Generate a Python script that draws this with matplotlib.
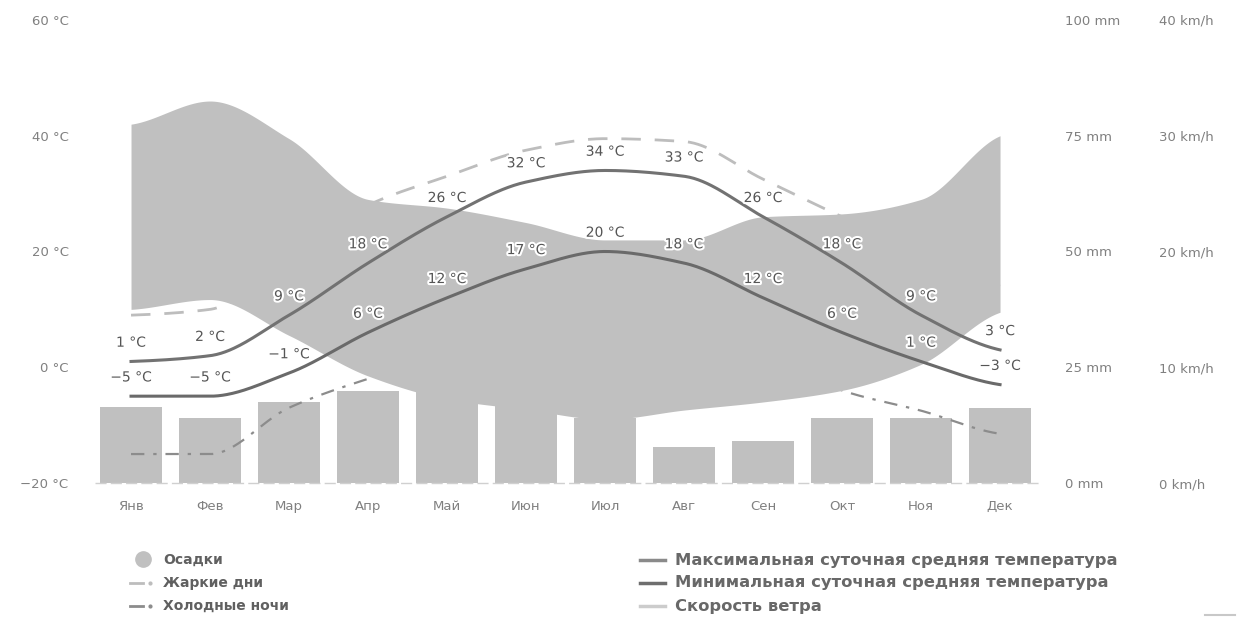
#!/usr/bin/env python
"""Climate chart: precipitation bars, daily mean temperatures, hot days / cold nights."""

import numpy as np
import matplotlib
matplotlib.use("Agg")
import matplotlib.pyplot as plt
import matplotlib.patheffects as pe
from matplotlib.lines import Line2D

months = ["Янв", "Фев", "Мар", "Апр", "Май", "Июн",
          "Июл", "Авг", "Сен", "Окт", "Ноя", "Дек"]

# daily mean max / min temperature, °C
temp_max = [1, 2, 9, 18, 26, 32, 34, 33, 26, 18, 9, 3]
temp_min = [-5, -5, -1, 6, 12, 17, 20, 18, 12, 6, 1, -3]

# hot days / cold nights, °C
hot_days = [9, 10, 19, 28, 33, 37.5, 39.5, 39, 32.5, 26, 20, 14]
cold_nights = [-15, -15, -7, -2, 2, 5, 7, 6, 3, -4, -7.5, -11.5]

# precipitation, mm
precip = [16.4, 14.0, 17.6, 19.8, 20.0, 16.6, 14.0, 7.8, 9.1, 14.0, 14.0, 16.1]

# grey band, upper and lower edge in °C units
band_top = [42, 46, 39.5, 29, 27.5, 25, 22, 22, 26, 26.5, 29, 40]
band_bottom = [10, 11.7, 5.5, -1.5, -5.5, -7.3, -9, -7.4, -6, -4, 0.5, 9.5]

temp_ticks = [-20, 0, 20, 40, 60]
mm_ticks = [0, 25, 50, 75, 100]
kmh_ticks = [0, 10, 20, 30, 40]

GREY = "#c0c0c0"
TICK_COLOR = "#808080"


def pchip(x, y, xs):
    """monotone cubic curve through the points (for drawing smooth lines)"""
    x = np.asarray(x, float)
    y = np.asarray(y, float)
    h = np.diff(x)
    d = np.diff(y) / h
    m = np.zeros_like(y)
    for k in range(1, len(y) - 1):
        if d[k - 1] * d[k] > 0:
            w1 = 2 * h[k] + h[k - 1]
            w2 = h[k] + 2 * h[k - 1]
            m[k] = (w1 + w2) / (w1 / d[k - 1] + w2 / d[k])
    m[0] = d[0] * 0.5
    m[-1] = d[-1] * 0.5
    idx = np.clip(np.searchsorted(x, xs) - 1, 0, len(x) - 2)
    t = (xs - x[idx]) / h[idx]
    h00 = 2 * t**3 - 3 * t**2 + 1
    h10 = t**3 - 2 * t**2 + t
    h01 = -2 * t**3 + 3 * t**2
    h11 = t**3 - t**2
    return (h00 * y[idx] + h10 * h[idx] * m[idx]
            + h01 * y[idx + 1] + h11 * h[idx] * m[idx + 1])


W, H = 1251, 617
fig = plt.figure(figsize=(W / 100, H / 100), dpi=100)

left, right, top, bottom = 95, 1040, 20, 483
ax = fig.add_axes([left / W, 1 - bottom / H, (right - left) / W, (bottom - top) / H])
ax_mm = ax.twinx()
ax_kmh = ax.twinx()

x = np.arange(len(months))
xs = np.linspace(0, len(months) - 1, 600)

# precipitation bars underneath everything
ax_mm.bar(x, precip, width=0.785, color=GREY, zorder=1)
ax_mm.set_ylim(0, 100)
ax.set_zorder(ax_mm.get_zorder() + 2)
ax.patch.set_visible(False)

ax.set_xlim(-0.456, 11.506)
ax.set_ylim(-20, 60)

# hot days / cold nights (partly covered by the grey band)
ax.plot(xs, pchip(x, hot_days, xs), color="#bdbdbd", lw=2, dashes=(7, 5), zorder=2)
ax.plot(xs, pchip(x, cold_nights, xs), color="#8c8c8c", lw=1.6,
        dashes=(6, 4, 1.5, 4), zorder=2)

ax.fill_between(xs, pchip(x, band_bottom, xs), pchip(x, band_top, xs),
                color=GREY, lw=0, zorder=3)

ax.plot(xs, pchip(x, temp_max, xs), color="#727272", lw=2.2, zorder=4)
ax.plot(xs, pchip(x, temp_min, xs), color="#6a6a6a", lw=2.2, zorder=4)

halo = [pe.withStroke(linewidth=3, foreground="white")]
for series in (temp_max, temp_min):
    for i, v in enumerate(series):
        ax.annotate(f"{v} °C".replace("-", "−"), (i, v), xytext=(0, 13.5),
                    textcoords="offset points", ha="center", va="center",
                    fontsize=10, color="#555555", path_effects=halo, zorder=6)

# baseline
ax.axhline(-20, color="#d0d0d0", lw=1, dashes=(8, 3), zorder=5, clip_on=False)

# ticks (pads in points: 100 dpi -> px * 0.72)
ax.set_yticks(temp_ticks)
ax.set_yticklabels([f"{t} °C".replace("-", "−") for t in temp_ticks])
ax.set_xticks(x)
ax.set_xticklabels(months)
ax.tick_params(axis="y", length=0, pad=19, labelsize=9.5, labelcolor=TICK_COLOR)
ax.tick_params(axis="x", length=0, pad=12, labelsize=9.5, labelcolor=TICK_COLOR)

ax_mm.set_yticks(mm_ticks)
ax_mm.set_yticklabels([f"{t} mm" for t in mm_ticks])
ax_mm.tick_params(axis="y", length=0, pad=18, labelsize=9.5, labelcolor=TICK_COLOR)

ax_kmh.set_ylim(0, 40)
ax_kmh.set_yticks(kmh_ticks)
ax_kmh.set_yticklabels([f"{t} km/h" for t in kmh_ticks])
ax_kmh.tick_params(axis="y", length=0, pad=86, labelsize=9.5, labelcolor=TICK_COLOR)

for a in (ax, ax_mm, ax_kmh):
    for s in a.spines.values():
        s.set_visible(False)


# legend, laid out by hand in pixel positions
def fx(px):
    return px / W


def fy(py):
    return 1 - py / H


LEG_LEFT = dict(fontsize=10, fontweight="bold", color="#606060", va="center")
LEG_RIGHT = dict(fontsize=11.8, fontweight="bold", color="#686868", va="center")

fig.add_artist(Line2D([fx(143)], [fy(559)], marker="o", ms=11, color=GREY, lw=0))
fig.text(fx(163), fy(560), "Осадки", **LEG_LEFT)

fig.add_artist(Line2D([fx(130), fx(143)], [fy(583), fy(583)], color="#bdbdbd", lw=2))
fig.add_artist(Line2D([fx(150)], [fy(583)], marker="o", ms=2, color="#bdbdbd", lw=0))
fig.text(fx(163), fy(583), "Жаркие дни", **LEG_LEFT)

fig.add_artist(Line2D([fx(130), fx(143)], [fy(606), fy(606)], color="#8c8c8c", lw=2))
fig.add_artist(Line2D([fx(150)], [fy(606)], marker="o", ms=2, color="#8c8c8c", lw=0))
fig.text(fx(163), fy(606), "Холодные ночи", **LEG_LEFT)

fig.add_artist(Line2D([fx(640), fx(665)], [fy(560), fy(560)], color="#8a8a8a", lw=2.5))
fig.text(fx(675), fy(560), "Максимальная суточная средняя температура", **LEG_RIGHT)

fig.add_artist(Line2D([fx(640), fx(665)], [fy(583), fy(583)], color="#6e6e6e", lw=2.5))
fig.text(fx(675), fy(583), "Минимальная суточная средняя температура", **LEG_RIGHT)

fig.add_artist(Line2D([fx(640), fx(665)], [fy(606), fy(606)], color="#cccccc", lw=2.5))
fig.text(fx(675), fy(606), "Скорость ветра", **LEG_RIGHT)

fig.add_artist(Line2D([fx(1205), fx(1235)], [fy(615), fy(615)], color="#c8c8c8", lw=1.5))

fig.savefig("out.png", dpi=100)
